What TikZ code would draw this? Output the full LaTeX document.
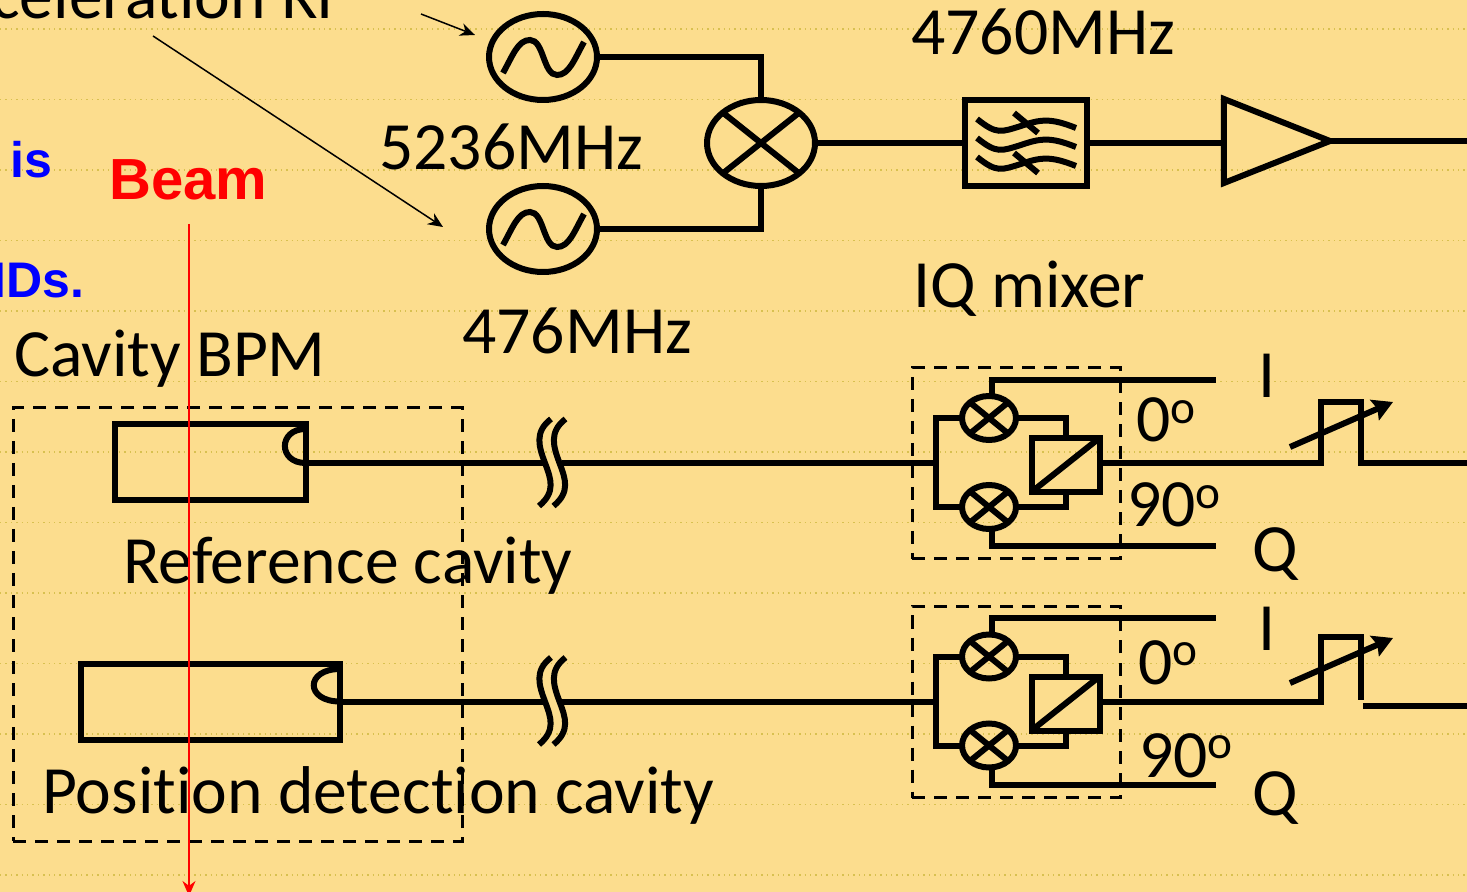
\documentclass[tikz,border=0pt]{standalone}
\usepackage{fontspec}
\setmainfont{Carlito}[Ligatures=NoCommon]
\newfontfamily\headfont{Liberation Sans}
\usepackage{tikz}
\usetikzlibrary{arrows,arrows.meta,shapes.geometric}
\definecolor{sheet}{HTML}{FCDD8E}
\definecolor{guide}{HTML}{D8C050}
\tikzset{
  wire/.style = {line width=3pt, line join=miter},
  thinarrow/.style = {-{Stealth[length=7.5pt,width=6.5pt]}, line width=0.75pt},
  sharrow/.style = {wire, -{Stealth[length=10pt,width=11pt,inset=1.5pt]}},
  framebox/.style = {draw, dash pattern=on 6.5pt off 4.5pt, line width=1.5pt},
  labeltxt/.style = {anchor=base west, inner sep=0pt, font=\fontsize{33.8}{36}\selectfont},
  bluetxt/.style = {anchor=base west, inner sep=0pt, blue,
    font=\headfont\bfseries\fontsize{25}{28}\selectfont},
  osc/.style = {ellipse, draw, wire, outer sep=0pt, minimum width=54pt, minimum height=43pt},
  mix_big/.style = {ellipse, draw, wire, outer sep=0pt, minimum width=54pt, minimum height=43pt},
  mix_small/.style = {ellipse, draw, wire, outer sep=0pt, minimum width=27pt, minimum height=22pt},
  filt/.style = {rectangle, draw, wire, outer sep=0pt, minimum width=61pt, minimum height=43pt},
  hybrid/.style = {rectangle, draw, wire, outer sep=0pt, minimum width=34pt, minimum height=27pt},
  cavity/.style = {rectangle, draw, wire, outer sep=0pt, minimum height=38pt}
}
\begin{document}
\begin{tikzpicture}[>=stealth',x=0.5pt,y=-0.5pt]
\useasboundingbox (0,0) rectangle (1467,892);
\clip (0,0) rectangle (1467,892);
\fill [sheet] (0,0) rectangle (1467,892);
% ruled lines of the sheet
\foreach \y in {29,99.5,170,240.5,311,381.5,452,522.5,593,663.5,734,804.5,875}
  \draw [guide, dotted, line width=0.7pt] (0,\y) -- (1467,\y);

% texts
\node (accel) [labeltxt] at (-9,19) {celeration RF};
\node (txtis) [bluetxt] at (10,178) {is};
\node (txtids) [bluetxt] at (-8,298) {IDs.};
\node (beam) [anchor=base west, inner sep=0pt, red, font=\headfont\bfseries\fontsize{29}{32}\selectfont] at (109,200) {Beam};
\node (f5236) [labeltxt] at (379,170) {5236MHz};
\node (f4760) [labeltxt] at (911,55) {4760MHz};
\node (f476) [labeltxt] at (462,354) {476MHz};
\node (iqtxt) [labeltxt] at (913,308) {IQ mixer};
\node (bpmtxt) [labeltxt] at (14,377) {Cavity BPM};
\node (reftxt) [labeltxt] at (123,584) {Reference cavity};
\node (postxt) [labeltxt] at (42,813) {Position detection cavity};
\node (ia) [labeltxt] at (1258,398) {I};
\node (qa) [labeltxt] at (1252,572) {Q};
\node (ib) [labeltxt] at (1258,650) {I};
\node (qb) [labeltxt] at (1252,815) {Q};
\node (zeroa) [labeltxt] at (1136,442) {0\textsuperscript{o}};
\node (ninea) [labeltxt] at (1127,527) {90\textsuperscript{o}};
\node (zerob) [labeltxt] at (1138,684) {0\textsuperscript{o}};
\node (nineb) [labeltxt] at (1139,777) {90\textsuperscript{o}};

% local oscillators, mixer, filter, amplifier
\node (osca) [osc] at (543,57) {};
\node (oscb) [osc] at (543,229) {};
\node (mixer) [mix_big] at (761,143) {};
\node (filter) [filt] at (1026,143) {};
\node (amp) [isosceles triangle, isosceles triangle stretches, draw, wire, outer sep=0pt,
  inner sep=0pt, minimum height=53pt, minimum width=42pt] at (1252.5,141) {};
\coordinate (rfout) at (1467,141);

\foreach \n in {osca,oscb}
  \draw [wire] ([shift={(-40,16)}]\n.center) .. controls +(10,-18) and +(-12,0) .. ([shift={(-13,-17)}]\n.center)
    .. controls +(14,0) and +(-14,0) .. ([shift={(14,18)}]\n.center)
    .. controls +(12,0) and +(-10,18) .. ([shift={(41,-15)}]\n.center);
\draw [wire] (mixer.north west) -- (mixer.south east);
\draw [wire] (mixer.north east) -- (mixer.south west);
\draw [wire] (osca.east) -| (mixer.north);
\draw [wire] (oscb.east) -| (mixer.south);
\draw [wire] (mixer.east) -- (filter.west);
\draw [wire] (filter.east) -- (amp.west |- filter.east);
\draw [wire] (amp.apex) -- (rfout);
% pass band sign in the filter
\foreach \d in {0,19,38}
  \draw [wire] ([shift={(-49,{-24+\d})}]filter.center) .. controls +(20,16) and +(-20,6) .. ([shift={(-5,{-17+\d})}]filter.center)
    .. controls +(20,-7) and +(-25,-10) .. ([shift={(50,{-15+\d})}]filter.center);
\foreach \d in {0,40}
  \draw [wire] ([shift={(-12,{-30+\d})}]filter.center) -- ([shift={(12,{-10+\d})}]filter.center);

% IQ mixers
\foreach \n/\dy in {a/0,b/238.5}{
  \begin{scope}[shift={(0,\dy)}]
    \node (iqbox\n) [framebox, minimum width=104pt, minimum height=95.5pt, outer sep=0pt] at (1016,463.5) {};
    \node (mixt\n) [mix_small] at (989,418) {};
    \node (mixb\n) [mix_small] at (989,507) {};
    \node (hyb\n) [hybrid] at (1065.5,465) {};
    \coordinate (busin\n) at (936,463);
    \coordinate (ch\n) at (1216,380);
    \coordinate (cq\n) at (1216,546);
    \draw [wire] (mixt\n.north west) -- (mixt\n.south east);
    \draw [wire] (mixt\n.north east) -- (mixt\n.south west);
    \draw [wire] (mixb\n.north west) -- (mixb\n.south east);
    \draw [wire] (mixb\n.north east) -- (mixb\n.south west);
    \draw [wire] (hyb\n.south west) -- (hyb\n.north east);
    \draw [wire] (mixt\n.west) -| (busin\n) |- (mixb\n.west);
    \draw [wire] (mixt\n.east) -| (hyb\n.north);
    \draw [wire] (mixb\n.east) -| (hyb\n.south);
    \draw [wire] ([xshift=1.5pt]mixt\n.north) |- (ch\n);
    \draw [wire] ([xshift=1.5pt]mixb\n.south) |- (cq\n);
    % break in the cable
    \foreach \s in {0,14.5}
      \draw [wire, shift={(\s,0)}] (551,419) .. controls (534,432) and (539,447) .. (545,463)
        .. controls (551,479) and (556,492) .. (539,506);
  \end{scope}
}

% cavities
\node (cavref) [cavity, minimum width=95.5pt] at (210,462.5) {};
\node (cavpos) [cavity, minimum width=129.5pt] at (210.5,701.5) {};
\coordinate (breakal) at (543,463);
\coordinate (breakar) at (562,463);
\coordinate (breakbl) at (543,701.5);
\coordinate (breakbr) at (562,701.5);
\coordinate (capa) at (305.5,463);
\coordinate (capb) at (340,701.5);
\draw [wire] (305.5,429) .. controls (278,429) and (278,463) .. (capa);
\draw [wire] (340,669) .. controls (305,669) and (305,701.5) .. (capb);
\draw [wire] (capa) -- (breakal);
\draw [wire] (breakar) -- (busina);
\draw [wire] (capb) -- (breakbl);
\draw [wire] (breakbr) -- (businb);

% phase shifters and outputs
\coordinate (outa) at (1467,463);
\coordinate (stepa) at (1321,402);
\coordinate (stepe) at (1361,402);
\draw [wire] (hyba.east |- busina) -| (stepa) -- (stepe) |- (outa);
\coordinate (stepb) at (1321,637);
\coordinate (stepf) at (1361,637);
\coordinate (endb) at (1361,700);
\coordinate (startb) at (1363,706);
\coordinate (outb) at (1467,706);
\draw [wire] (hybb.east |- businb) -| (stepb) -- (stepf) -- (endb);
\draw [wire] (startb) -- (outb);
\coordinate (sha) at (1290,447);
\coordinate (shb) at (1393,402);
\coordinate (shc) at (1290,683);
\coordinate (shd) at (1393,638);
\draw [sharrow] (sha) -- (shb);
\draw [sharrow] (shc) -- (shd);

% thin arrows and the beam
\node (boxcav) [framebox, minimum width=224.5pt, minimum height=216.5pt, outer sep=0pt] at (237.5,624.5) {};
\coordinate (arra) at (421,14);
\coordinate (arrb) at (475,35);
\coordinate (arrc) at (153,36);
\coordinate (arrd) at (443,227);
\draw [thinarrow] (arra) -- (arrb);
\draw [thinarrow] (arrc) -- (arrd);
\coordinate (beamtop) at (189,224);
\coordinate (beamend) at (189,896);
\draw [thinarrow, red] (beamtop) -- (beamend);
\end{tikzpicture}
\end{document}
